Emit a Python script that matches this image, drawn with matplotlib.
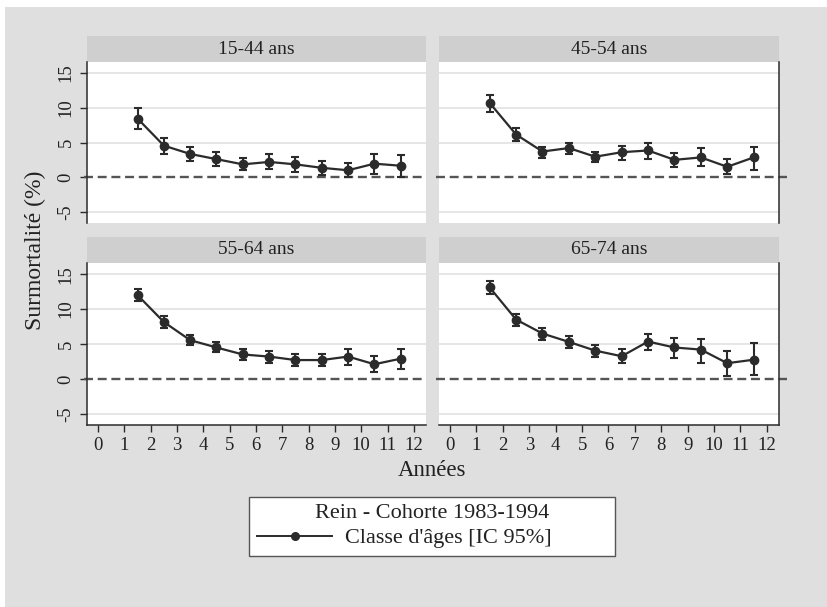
import matplotlib
matplotlib.use('Agg')
import numpy as np
import matplotlib.pyplot as plt
from matplotlib.patches import Rectangle
from matplotlib.lines import Line2D
import matplotlib.transforms as mtransforms

plt.rcParams['font.family'] = ['Liberation Serif', 'DejaVu Serif']
plt.rcParams['axes.unicode_minus'] = False

annees = [1.5, 2.5, 3.5, 4.5, 5.5, 6.5, 7.5, 8.5, 9.5, 10.5, 11.5]
groupes = ['15-44 ans', '45-54 ans', '55-64 ans', '65-74 ans']

# surmortalite (%) et IC 95%
s_15_44 = [8.45, 4.55, 3.35, 2.6, 1.85, 2.2, 1.85, 1.35, 1.0, 1.95, 1.65]
lo_15_44 = [6.9, 3.35, 2.3, 1.6, 1.0, 1.15, 0.7, 0.3, 0.05, 0.45, 0.05]
hi_15_44 = [9.9, 5.7, 4.4, 3.6, 2.7, 3.35, 2.85, 2.3, 2.0, 3.3, 3.15]

s_45_54 = [10.7, 6.15, 3.7, 4.2, 2.95, 3.6, 3.85, 2.5, 2.85, 1.5, 2.85]
lo_45_54 = [9.45, 5.15, 2.8, 3.3, 2.15, 2.5, 2.6, 1.4, 1.6, 0.5, 1.1]
hi_45_54 = [11.8, 7.1, 4.4, 5.0, 3.7, 4.55, 4.9, 3.5, 4.2, 2.6, 4.35]

s_55_64 = [12.0, 8.15, 5.55, 4.5, 3.5, 3.2, 2.7, 2.7, 3.2, 2.1, 2.9]
lo_55_64 = [11.1, 7.3, 4.85, 3.8, 2.75, 2.35, 1.8, 1.8, 1.95, 0.95, 1.4]
hi_55_64 = [12.85, 8.95, 6.25, 5.25, 4.3, 4.0, 3.6, 3.6, 4.35, 3.25, 4.35]

s_65_74 = [13.1, 8.5, 6.5, 5.3, 4.05, 3.25, 5.35, 4.5, 4.2, 2.25, 2.75]
lo_65_74 = [12.2, 7.6, 5.6, 4.45, 3.15, 2.25, 4.1, 3.05, 2.3, 0.4, 0.5]
hi_65_74 = [14.0, 9.25, 7.35, 6.1, 4.9, 4.25, 6.5, 5.8, 5.75, 4.0, 5.1]

series = [(s_15_44, lo_15_44, hi_15_44), (s_45_54, lo_45_54, hi_45_54),
          (s_55_64, lo_55_64, hi_55_64), (s_65_74, lo_65_74, hi_65_74)]

W, H = 828, 607
fig = plt.figure(figsize=(W / 100, H / 100), dpi=100)
fig.patch.set_facecolor('white')
fig.patches.append(Rectangle((5 / W, 0), 1, 1 - 7 / H, transform=fig.transFigure,
                             facecolor='#dfdfdf', edgecolor='none', zorder=-10))

def px(x0, y0, x1, y1):
    return [x0 / W, 1 - y1 / H, (x1 - x0) / W, (y1 - y0) / H]

boxes = [px(87, 62, 426, 223), px(439, 62, 779, 223),
         px(87, 263, 426, 425), px(439, 263, 779, 425)]
dark = '#2b2b2b'

for i, (b, nom, (s, lo, hi)) in enumerate(zip(boxes, groupes, series)):
    ax = fig.add_axes(b)
    ax.set_facecolor('white')
    ax.set_xlim(-0.42, 12.46)
    ax.set_ylim(-6.6, 16.6)
    ax.set_yticks([-5, 0, 5, 10, 15])
    ax.set_xticks(range(13))
    for v in [-5, 5, 10, 15]:
        ax.axhline(v, color='#e4e4e4', lw=1.3, zorder=1)
    gauche = i % 2 == 0
    bas = i >= 2
    xs = [-0.01, 1.0] if gauche else [-0.01, 1.025]
    trans = mtransforms.blended_transform_factory(ax.transAxes, ax.transData)
    ax.plot(xs, [0, 0], transform=trans, color='#555555', lw=1.7,
            dashes=(3.8, 2.0), clip_on=False, zorder=2)
    yerr = [np.array(s) - np.array(lo), np.array(hi) - np.array(s)]
    ax.errorbar(annees, s, yerr=yerr, color=dark, lw=1.6, marker='o', ms=6,
                capsize=3.2, capthick=1.5, elinewidth=1.5, zorder=3)
    for sp in ax.spines.values():
        sp.set_visible(False)
        sp.set_color(dark)
        sp.set_linewidth(1.1)
    ax.spines['left'].set_visible(gauche)
    ax.spines['right'].set_visible(not gauche)
    ax.spines['bottom'].set_visible(bas)
    ax.tick_params(axis='y', left=gauche, labelleft=gauche, right=False,
                   length=5, width=1.0, color=dark, labelsize=13.5, pad=4,
                   labelcolor='#222222')
    ax.tick_params(axis='x', bottom=bas, labelbottom=bas, length=5, width=1.0,
                   color=dark, labelsize=13.5, pad=4, labelcolor='#222222')
    for t in ax.get_yticklabels():
        t.set_rotation(90)
        t.set_va('center')
    ax.add_patch(Rectangle((0, 1), 1, 26 / 161, transform=ax.transAxes,
                           facecolor='#cfcfcf', edgecolor='none', clip_on=False))
    ax.text(0.5, 1 + 13 / 161, nom, transform=ax.transAxes, ha='center',
            va='center', fontsize=14, color='#222222')

fig.text(35 / W, 1 - 250 / H, 'Surmortalité (%)', rotation=90, ha='center',
         va='center', fontsize=17, color='#222222')
fig.text(432 / W, 1 - 470 / H, 'Années', ha='center', va='center',
         fontsize=16.5, color='#222222')

h = Line2D([], [], color=dark, lw=1.4, marker='o', ms=5.5)
leg = fig.legend(handles=[h], labels=["Classe d'âges [IC 95%]"],
                 title='Rein - Cohorte 1983-1994',
                 bbox_to_anchor=(249 / W, 1 - 560 / H, 366 / W, 67 / H),
                 loc='center', mode='expand', fontsize=16, title_fontsize=16,
                 handlelength=3.4, handletextpad=0.55, numpoints=1,
                 fancybox=False, borderaxespad=0, borderpad=0.35, labelspacing=0.2)
leg.get_frame().set_edgecolor('#555555')
leg.get_frame().set_linewidth(1.0)
leg.get_frame().set_alpha(1)
for t in leg.get_texts():
    t.set_color('#222222')
leg.get_title().set_color('#222222')

fig.savefig('out.png', dpi=100)
